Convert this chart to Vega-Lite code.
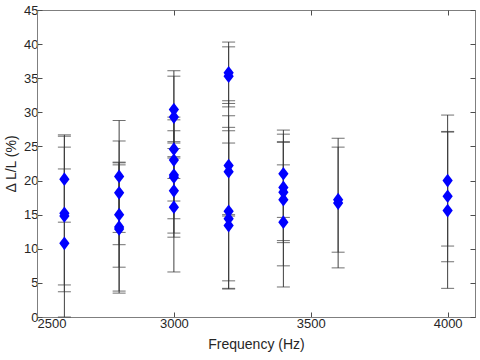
{
  "$schema": "https://vega.github.io/schema/vega-lite/v6.json",
  "width": 438,
  "height": 307,
  "autosize": {"type": "none"},
  "padding": {"left": 37, "top": 10, "right": 5, "bottom": 43},
  "background": "white",
  "config": {
    "font": "Liberation Sans",
    "view": {"stroke": "#7f7f7f", "strokeWidth": 1},
    "axis": {
      "grid": false,
      "domainColor": "#7f7f7f",
      "tickColor": "#4d4d4d",
      "tickSize": -5,
      "labelFont": "Liberation Sans",
      "labelFontSize": 13,
      "labelColor": "#262626",
      "titleFont": "Liberation Sans",
      "titleFontSize": 14,
      "titleFontWeight": "normal",
      "titleColor": "#262626"
    }
  },
  "data": {
    "values": [
      {"f": 2600, "v": 20.2, "lo": 13.9, "hi": 26.5},
      {"f": 2600, "v": 15.2, "lo": 3.7, "hi": 26.7},
      {"f": 2600, "v": 14.8, "lo": 4.7, "hi": 24.9},
      {"f": 2600, "v": 10.8, "lo": 0.0, "hi": 21.7},
      {"f": 2800, "v": 20.6, "lo": 12.4, "hi": 28.8},
      {"f": 2800, "v": 18.2, "lo": 10.6, "hi": 25.8},
      {"f": 2800, "v": 15.0, "lo": 7.3, "hi": 22.7},
      {"f": 2800, "v": 13.2, "lo": 3.8, "hi": 22.6},
      {"f": 2800, "v": 12.9, "lo": 3.5, "hi": 22.3},
      {"f": 3000, "v": 30.4, "lo": 24.7, "hi": 36.1},
      {"f": 3000, "v": 29.3, "lo": 23.3, "hi": 35.3},
      {"f": 3000, "v": 24.6, "lo": 20.3, "hi": 28.9},
      {"f": 3000, "v": 23.0, "lo": 17.0, "hi": 27.3},
      {"f": 3000, "v": 20.8, "lo": 14.4, "hi": 25.7},
      {"f": 3000, "v": 20.5, "lo": 11.7, "hi": 29.3},
      {"f": 3000, "v": 18.5, "lo": 12.3, "hi": 23.5},
      {"f": 3000, "v": 16.1, "lo": 6.6, "hi": 25.5},
      {"f": 3200, "v": 35.8, "lo": 31.3, "hi": 40.3},
      {"f": 3200, "v": 35.3, "lo": 30.8, "hi": 39.6},
      {"f": 3200, "v": 22.2, "lo": 15.0, "hi": 29.5},
      {"f": 3200, "v": 21.3, "lo": 14.8, "hi": 27.8},
      {"f": 3200, "v": 15.5, "lo": 4.2, "hi": 27.3},
      {"f": 3200, "v": 14.4, "lo": 4.1, "hi": 25.5},
      {"f": 3200, "v": 13.4, "lo": 5.3, "hi": 31.7},
      {"f": 3400, "v": 21.0, "lo": 14.6, "hi": 27.4},
      {"f": 3400, "v": 19.0, "lo": 11.2, "hi": 26.8},
      {"f": 3400, "v": 18.3, "lo": 10.9, "hi": 25.7},
      {"f": 3400, "v": 17.2, "lo": 7.5, "hi": 25.6},
      {"f": 3400, "v": 13.9, "lo": 4.4, "hi": 22.3},
      {"f": 3600, "v": 17.2, "lo": 9.5, "hi": 24.9},
      {"f": 3600, "v": 16.7, "lo": 7.2, "hi": 26.2},
      {"f": 4000, "v": 20.0, "lo": 10.4, "hi": 29.6},
      {"f": 4000, "v": 17.7, "lo": 8.1, "hi": 27.2},
      {"f": 4000, "v": 15.6, "lo": 4.2, "hi": 27.1}
    ]
  },
  "resolve": {"axis": {"x": "independent", "y": "independent"}},
  "layer": [
    {
      "mark": {"type": "rule", "color": "#404040", "strokeWidth": 1},
      "encoding": {
        "x": {"field": "f", "type": "quantitative", "scale": {"domain": [2500, 4100], "nice": false, "zero": false},
              "axis": {"orient": "top", "labels": false, "title": null, "values": [2500, 3000, 3500, 4000], "domain": false}},
        "y": {"field": "lo", "type": "quantitative", "scale": {"domain": [0, 45], "nice": false},
              "axis": {"orient": "right", "labels": false, "title": null, "values": [0,5,10,15,20,25,30,35,40,45], "domain": false}},
        "y2": {"field": "hi"}
      }
    },
    {
      "mark": {"type": "tick", "orient": "horizontal", "color": "#333333", "thickness": 1, "size": 13},
      "encoding": {
        "x": {"field": "f", "type": "quantitative", "axis": null},
        "y": {"field": "lo", "type": "quantitative", "axis": null}
      }
    },
    {
      "mark": {"type": "tick", "orient": "horizontal", "color": "#333333", "thickness": 1, "size": 13},
      "encoding": {
        "x": {"field": "f", "type": "quantitative", "axis": null},
        "y": {"field": "hi", "type": "quantitative", "axis": null}
      }
    },
    {
      "mark": {"type": "point", "shape": "M0,-1.2L0.9,0L0,1.2L-0.9,0Z", "filled": true, "color": "#0000ff", "opacity": 1, "size": 130},
      "encoding": {
        "x": {"field": "f", "type": "quantitative",
              "axis": {"orient": "bottom", "title": "Frequency (Hz)", "format": "d", "values": [2500, 3000, 3500, 4000], "labelPadding": 5, "titlePadding": 7}},
        "y": {"field": "v", "type": "quantitative",
              "axis": {"orient": "left", "title": "Δ L/L (%)", "format": "d", "values": [0,5,10,15,20,25,30,35,40,45], "labelPadding": 4, "titlePadding": 5}}
      }
    }
  ]
}
